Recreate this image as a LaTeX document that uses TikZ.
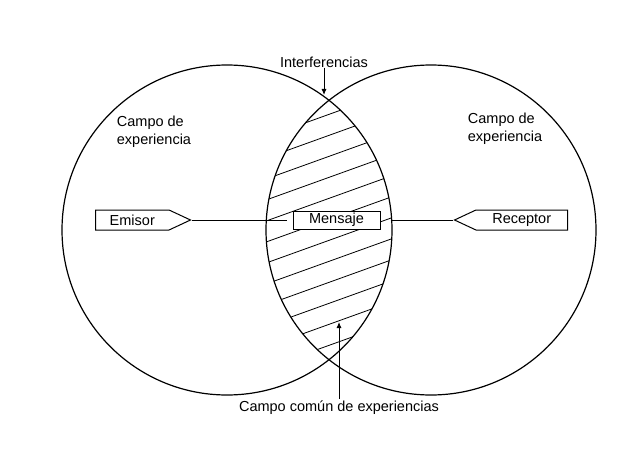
\documentclass[tikz,border=0pt]{standalone}
\usepackage{fontspec}
\setmainfont{Liberation Sans}
\usetikzlibrary{shapes.symbols, arrows.meta, positioning}

\begin{document}
\begin{tikzpicture}[
        x=1pt, y=-1pt,
        >={Latex[length=6pt,width=5pt]},
        field/.style={draw, line width=1.2pt},
        hatch/.style={draw, line width=0.8pt},
        tag/.style={signal, draw, line width=1pt, fill=white, minimum height=20pt, inner sep=0pt, signal pointer angle=50, font=\fontsize{14.5}{17}\selectfont},
        msg/.style={rectangle, draw, line width=1pt, fill=white, minimum width=87pt, minimum height=18pt, inner sep=0pt, font=\fontsize{14.5}{17}\selectfont},
        caption/.style={align=left, inner sep=0pt, font=\fontsize{14.5}{18}\selectfont},
        line/.style={draw, line width=0.9pt}
    ]
        \useasboundingbox (0,0) rectangle (640,452);

        % Fields of experience
        \coordinate (emisor_c) at (227,230);
        \coordinate (receptor_c) at (431,230);
        \path [field] (emisor_c) circle (165pt);
        \path [field] (receptor_c) circle (165pt);

        % Common field (hatched)
        \begin{scope}
            \clip (emisor_c) circle (165pt);
            \clip (receptor_c) circle (165pt);
            \foreach \k in {0,...,11}
                \path [hatch] (250,{114+21*\k+80*0.36}) -- (410,{114+21*\k-80*0.36});
        \end{scope}

        % Labels
        \node [caption] (campo_emisor) at (154,132) {Campo de\\experiencia};
        \node [caption] (campo_receptor) at (505,129) {Campo de\\experiencia};
        \node [caption] (interferencias) at (324,62) {Interferencias};
        \node [caption] (campo_comun) at (339,408) {Campo común de experiencias};
        \coordinate (cruce) at (324,95);
        \coordinate (comun) at (339,322);

        % Emisor, message, receptor
        \node [tag, minimum width=95pt, anchor=west] (emisor) at (95,220) {Emisor};
        \node [msg] (mensaje) at (336.5,220) {Mensaje};
        \node [tag, signal to=west, minimum width=113pt, anchor=east] (receptor) at (568,220) {Receptor};

        % Paths
        \path [line, shorten >=6pt] (emisor.east) -- (mensaje.west);
        \path [line, shorten <=10pt] (mensaje.east) -- (receptor.west);
        \path [line, ->] (interferencias.south) -- (cruce);
        \path [line, ->] (campo_comun.north) ++(0,-2) -- (comun);

    \end{tikzpicture}
\end{document}
